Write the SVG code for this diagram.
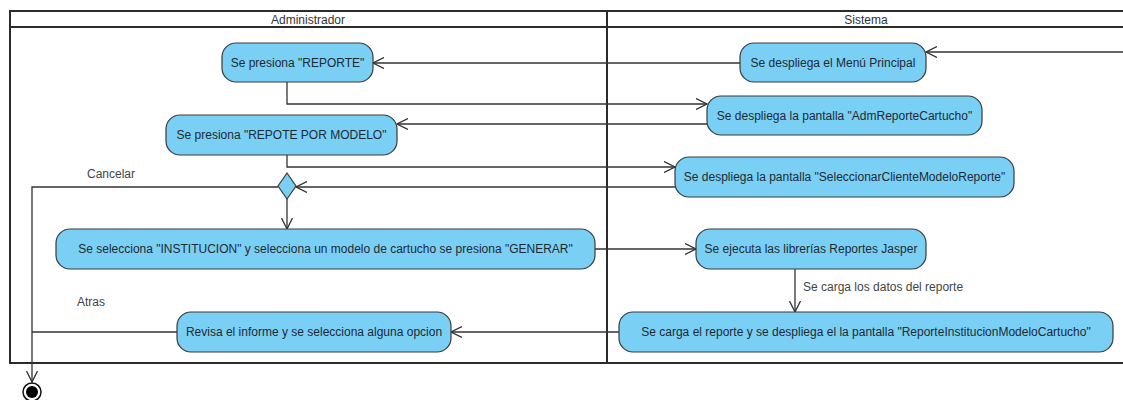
<svg xmlns="http://www.w3.org/2000/svg" width="1123" height="400" viewBox="0 0 1123 400">
<style>
.frame{fill:none;stroke:#2b2b2b;stroke-width:2}
.hdr{font-family:"Liberation Sans",Arial,sans-serif;font-size:12px;fill:#333;text-anchor:middle}
.node rect{fill:#7ACFF4;stroke:#3a3a3a;stroke-width:1.2}
.node text{font-family:"Liberation Sans",Arial,sans-serif;font-size:12px;fill:#1e2a33;text-anchor:middle;dominant-baseline:central}
.edge{fill:none;stroke:#333;stroke-width:1.3}
.lbl{font-family:"Liberation Sans",Arial,sans-serif;font-size:12px;fill:#444}
</style>
<defs>
<marker id="arr" viewBox="0 0 12 12" refX="11" refY="6" markerWidth="12" markerHeight="12" markerUnits="userSpaceOnUse" orient="auto">
<path d="M0,0.5 L11,6 L0,11.5" fill="none" stroke="#333" stroke-width="1.3"/>
</marker>
</defs>
<rect width="1123" height="400" fill="#fff"/>
<g id="lanes">
<path class="frame" d="M1124,11 H10 V363 H1124 M10,27 H1124 M607,11 V363"/>
<text class="hdr" x="308" y="24">Administrador</text>
<text class="hdr" x="866" y="24">Sistema</text>
</g>
<g id="connectors">
<path class="edge" d="M1123,52 H926" marker-end="url(#arr)"/>
<path class="edge" d="M740,63 H373" marker-end="url(#arr)"/>
<path class="edge" d="M287,82 V104 H707" marker-end="url(#arr)"/>
<path class="edge" d="M707,124 H397" marker-end="url(#arr)"/>
<path class="edge" d="M287,155 V167 H675" marker-end="url(#arr)"/>
<path class="edge" d="M675,187 H296" marker-end="url(#arr)"/>
<path class="edge" d="M287,199 V229" marker-end="url(#arr)"/>
<path class="edge" d="M278,187 H32 V382" marker-end="url(#arr)"/>
<path class="edge" d="M595,249 H696" marker-end="url(#arr)"/>
<path class="edge" d="M795,269 V312" marker-end="url(#arr)"/>
<path class="edge" d="M619,332 H451" marker-end="url(#arr)"/>
<path class="edge" d="M177,332 H32"/>
<text class="lbl" x="87" y="178">Cancelar</text>
<text class="lbl" x="77" y="306">Atras</text>
<text class="lbl" x="803" y="291">Se carga los datos del reporte</text>
</g>
<g id="n1" class="node"><rect x="222" y="43" width="151" height="39" rx="14"/><text x="297.5" y="62.5">Se presiona "REPORTE"</text></g>
<g id="n2" class="node"><rect x="740" y="43" width="186" height="39" rx="14"/><text x="833" y="62.5">Se despliega el Menú Principal</text></g>
<g id="n3" class="node"><rect x="707" y="96" width="275" height="39" rx="14"/><text x="844.5" y="115.5">Se despliega la pantalla "AdmReporteCartucho"</text></g>
<g id="n4" class="node"><rect x="166" y="115" width="231" height="40" rx="14"/><text x="281.5" y="135">Se presiona "REPOTE POR MODELO"</text></g>
<g id="n5" class="node"><rect x="675" y="157" width="339" height="40" rx="14"/><text x="844.5" y="177">Se despliega la pantalla "SeleccionarClienteModeloReporte"</text></g>
<g id="decision"><path d="M287,173 L296,186 L287,199 L278,186 Z" fill="#7ACFF4" stroke="#3a3a3a" stroke-width="1.2"/></g>
<g id="n6" class="node"><rect x="56" y="229" width="539" height="40" rx="14"/><text x="325.5" y="249">Se selecciona "INSTITUCION" y selecciona un modelo de cartucho se presiona "GENERAR"</text></g>
<g id="n7" class="node"><rect x="696" y="229" width="230" height="40" rx="14"/><text x="811" y="249">Se ejecuta las librerías Reportes Jasper</text></g>
<g id="n8" class="node"><rect x="619" y="312" width="494" height="40" rx="14"/><text x="866" y="332">Se carga el reporte y se despliega el la pantalla "ReporteInstitucionModeloCartucho"</text></g>
<g id="n9" class="node"><rect x="177" y="312" width="274" height="40" rx="14"/><text x="314" y="332">Revisa el informe y se selecciona alguna opcion</text></g>
<g id="final"><circle cx="32" cy="392" r="9" fill="#fff" stroke="#111" stroke-width="1.5"/><circle cx="32" cy="392" r="6" fill="#000"/></g>
</svg>
